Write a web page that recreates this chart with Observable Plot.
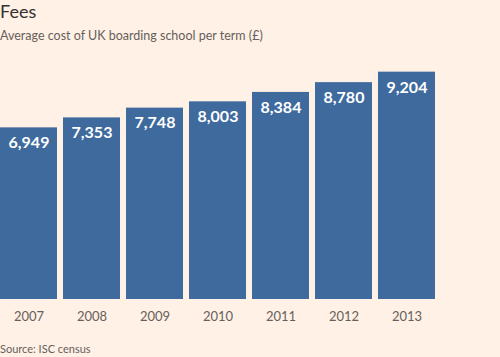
<!DOCTYPE html>
<html>
<head>
<meta charset="utf-8">
<script src="https://cdn.jsdelivr.net/npm/d3@7"></script>
<script src="https://cdn.jsdelivr.net/npm/@observablehq/plot@0.6"></script>
<style>
  html, body { margin: 0; padding: 0; background: #fff1e5; width: 500px; height: 357px; overflow: hidden; }
  body { font-family: Lato, "Noto Sans", sans-serif; }
  #title { position: absolute; left: 0; top: 0px; font-size: 18px; color: #33302e; line-height: 22px; }
  #subtitle { position: absolute; left: 0; top: 28px; font-size: 12.5px; color: #66605c; line-height: 16px; }
  #chart { position: absolute; left: 0; top: 50px; }
  #source { position: absolute; left: 0; top: 342px; font-size: 11px; color: #66605c; line-height: 14px; }
</style>
</head>
<body>
<div id="title">Fees</div>
<div id="subtitle">Average cost of UK boarding school per term (£)</div>
<div id="chart"></div>
<div id="source">Source: ISC census</div>
<script>
const years = ["2007", "2008", "2009", "2010", "2011", "2012", "2013"];
const fees = [6949, 7353, 7748, 8003, 8384, 8780, 9204];

const data = years.map((y, i) => ({year: y, fee: fees[i]}));

const chart = Plot.plot({
  width: 500,
  height: 292,
  marginLeft: 0,
  marginRight: 63,
  marginTop: 2,
  marginBottom: 43,
  style: {background: "transparent", fontFamily: "Lato, 'Noto Sans', sans-serif"},
  x: {domain: years, paddingInner: 0.1, paddingOuter: 0, align: 0, label: null},
  y: {domain: [0, 10000], axis: null},
  marks: [
    Plot.barY(data, {x: "year", y: "fee", fill: "#3e6a9e"}),
    Plot.text(data, {
      x: "year", y: "fee",
      text: d => d3.format(",")(d.fee),
      fill: "white", fontSize: 16, fontWeight: 700,
      lineAnchor: "top", dy: 9
    }),
    Plot.axisX({tickSize: 0, tickPadding: 12, fontSize: 13, color: "#66605c", label: null})
  ]
});
document.getElementById("chart").appendChild(chart);
</script>
</body>
</html>
